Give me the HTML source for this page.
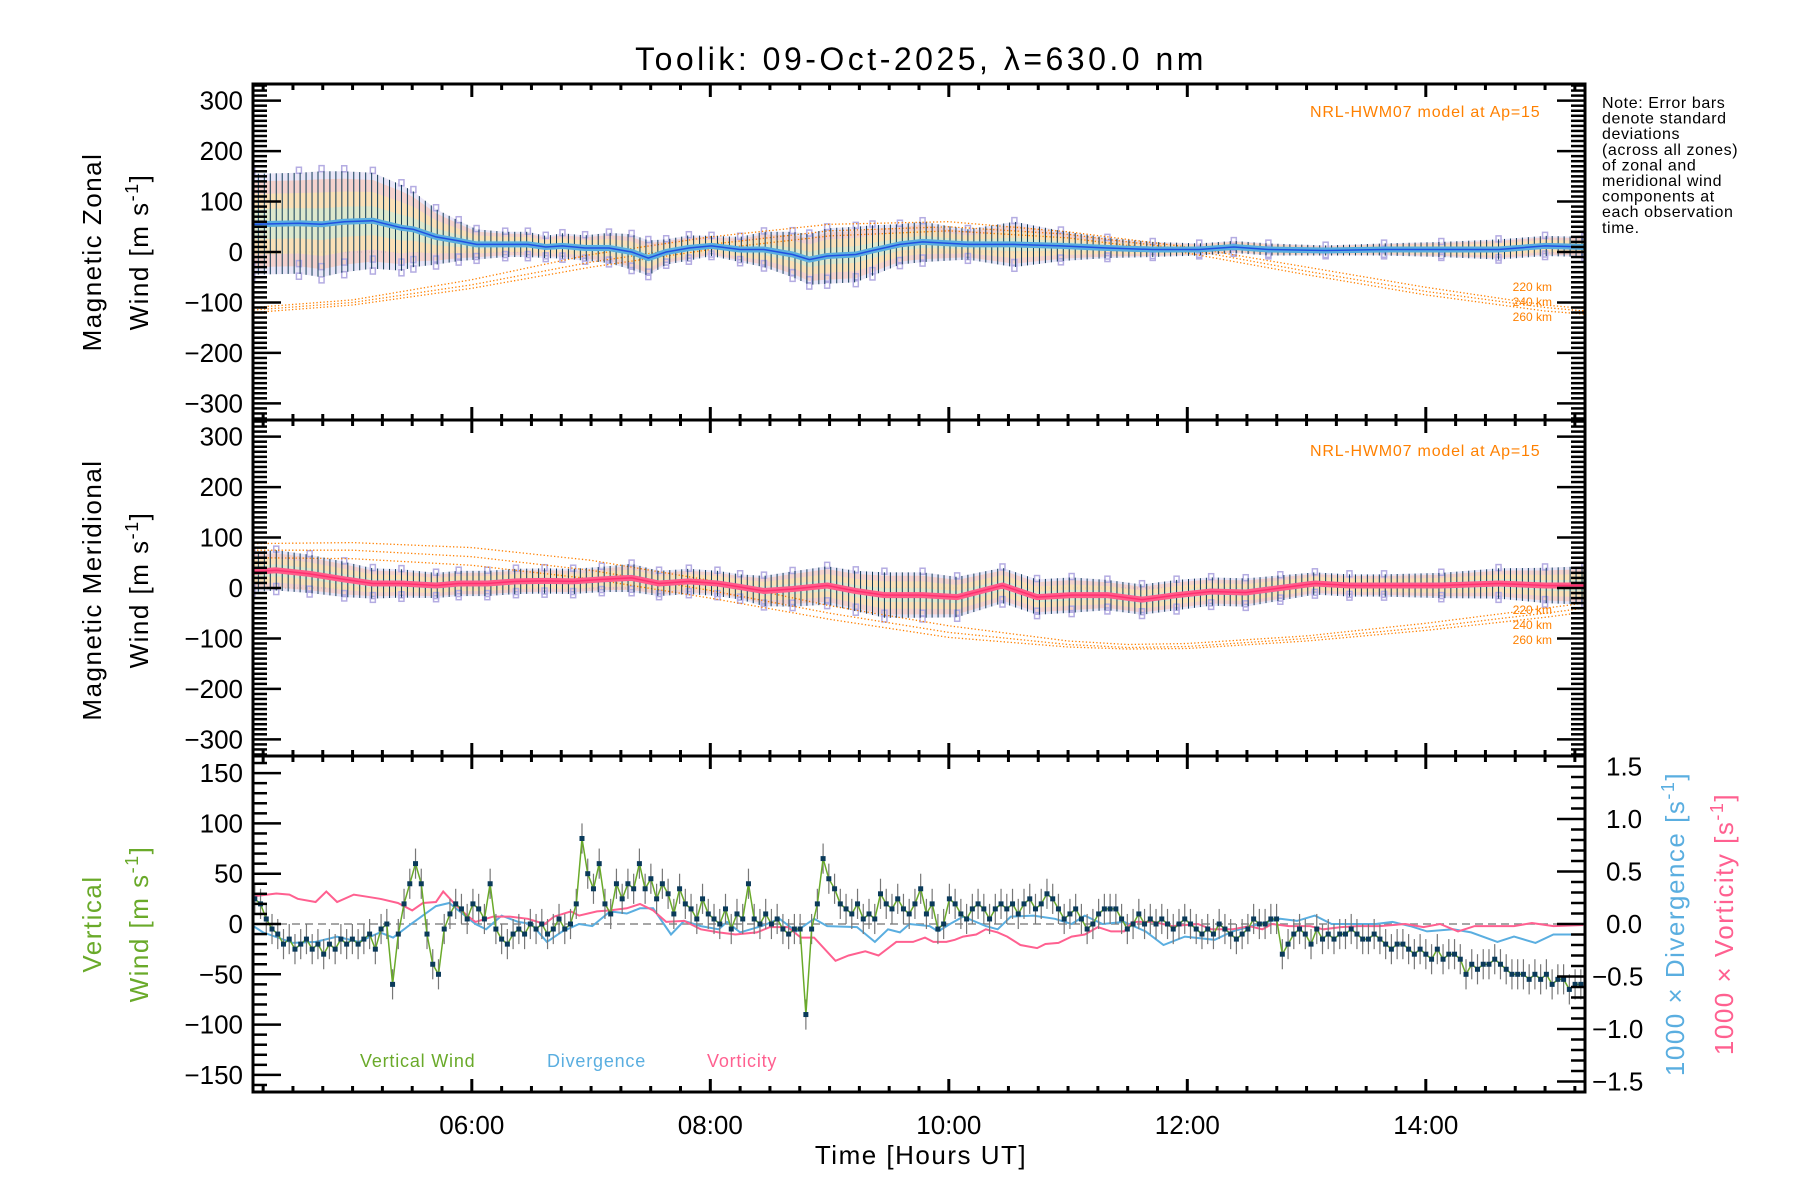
<!DOCTYPE html>
<html><head><meta charset="utf-8"><style>
html,body{margin:0;padding:0;background:#fff;}
svg{display:block;font-family:"Liberation Sans",sans-serif;}
</style></head><body>
<svg id="chart" xmlns="http://www.w3.org/2000/svg" width="1800" height="1200" viewBox="0 0 1800 1200">
<rect x="0" y="0" width="1800" height="1200" fill="#fff"/>
<text x="921" y="70" font-size="32" letter-spacing="3.5" text-anchor="middle">Toolik: 09-Oct-2025, λ=630.0 nm</text>
<g id="layer"></g>
<text x="1310" y="117" font-size="16" letter-spacing="0.8" fill="#ff8000">NRL-HWM07 model at Ap=15</text>
<text x="1310" y="456" font-size="16" letter-spacing="0.8" fill="#ff8000">NRL-HWM07 model at Ap=15</text>
<g font-size="12" fill="#ff8000" text-anchor="end">
<text x="1552" y="291">220 km</text>
<text x="1552" y="306">240 km</text>
<text x="1552" y="321">260 km</text>
<text x="1552" y="614">220 km</text>
<text x="1552" y="629">240 km</text>
<text x="1552" y="644">260 km</text>
</g>
<g font-size="16" letter-spacing="0.6">
<text x="1602" y="108">Note: Error bars</text>
<text x="1602" y="123.6">denote standard</text>
<text x="1602" y="139.2">deviations</text>
<text x="1602" y="154.8">(across all zones)</text>
<text x="1602" y="170.4">of zonal and</text>
<text x="1602" y="186">meridional wind</text>
<text x="1602" y="201.6">components at</text>
<text x="1602" y="217.2">each observation</text>
<text x="1602" y="232.8">time.</text>
</g>
<text transform="translate(101,252) rotate(-90)" font-size="26" letter-spacing="1.5" text-anchor="middle">Magnetic Zonal</text>
<text transform="translate(148,252) rotate(-90)" font-size="26" letter-spacing="1.5" text-anchor="middle">Wind [m s<tspan dy="-10" font-size="18">-1</tspan><tspan dy="10">]</tspan></text>
<text transform="translate(101,590) rotate(-90)" font-size="26" letter-spacing="1.5" text-anchor="middle">Magnetic Meridional</text>
<text transform="translate(148,590) rotate(-90)" font-size="26" letter-spacing="1.5" text-anchor="middle">Wind [m s<tspan dy="-10" font-size="18">-1</tspan><tspan dy="10">]</tspan></text>
<text transform="translate(101,924) rotate(-90)" font-size="26" letter-spacing="1.5" fill="#6aaa2a" text-anchor="middle">Vertical</text>
<text transform="translate(148,924) rotate(-90)" font-size="26" letter-spacing="1.5" fill="#6aaa2a" text-anchor="middle">Wind [m s<tspan dy="-10" font-size="18">-1</tspan><tspan dy="10">]</tspan></text>
<text transform="translate(1684,924) rotate(-90)" font-size="26" letter-spacing="1.5" fill="#5aaee0" text-anchor="middle">1000 × Divergence [s<tspan dy="-10" font-size="18">-1</tspan><tspan dy="10">]</tspan></text>
<text transform="translate(1733,924) rotate(-90)" font-size="26" letter-spacing="1.5" fill="#ff6090" text-anchor="middle">1000 × Vorticity [s<tspan dy="-10" font-size="18">-1</tspan><tspan dy="10">]</tspan></text>
<text x="921" y="1164" font-size="26" letter-spacing="1.5" text-anchor="middle">Time [Hours UT]</text>
<g font-size="18" letter-spacing="0.8">
<text x="360" y="1067" fill="#6aaa2a">Vertical Wind</text>
<text x="547" y="1067" fill="#5aaee0">Divergence</text>
<text x="707" y="1067" fill="#ff6090">Vorticity</text>
</g>
</svg>
<script>
// ---- Data ----
const zonalTimes = [4.16,4.55,4.74,4.93,5.17,5.41,5.51,5.70,5.89,6.04,6.28,6.47,6.62,6.76,6.95,7.15,7.34,7.48,7.63,7.82,8.01,8.25,8.45,8.69,8.83,8.98,9.22,9.36,9.59,9.78,10.16,10.55,10.94,11.33,11.71,12.10,12.39,12.68,13.16,13.65,14.13,14.61,15.0,15.33];
const zonalMean = [55,57,55,60,62,48,45,30,22,15,15,15,10,12,8,8,0,-12,0,8,12,5,5,-5,-15,-8,-5,3,15,20,15,15,12,8,5,5,10,5,3,5,5,5,12,10];
const zonalErr = [100,100,105,100,95,85,75,55,40,30,25,25,22,25,25,30,35,35,25,25,20,25,35,45,50,55,55,50,40,40,30,45,30,20,15,12,12,12,10,12,15,20,20,20];
const merTimes = [4.16,4.36,4.64,4.93,5.17,5.41,5.70,5.89,6.13,6.37,6.61,6.85,7.09,7.34,7.57,7.82,8.06,8.25,8.45,8.69,8.98,9.22,9.46,9.78,10.07,10.45,10.74,11.03,11.33,11.62,11.91,12.2,12.49,12.78,13.07,13.36,13.65,14.13,14.61,15.0,15.33];
const merMean = [32,35,28,17,9,9,5,9,9,13,14,13,17,20,9,13,9,2,-6,-2,5,-6,-14,-14,-18,5,-18,-14,-14,-23,-14,-7,-9,0,9,5,5,5,9,5,5];
const merErr = [40,40,38,35,30,28,25,25,25,25,25,25,25,28,25,25,25,25,30,35,38,40,45,45,40,35,35,35,30,30,30,28,28,25,22,22,22,25,30,35,38];
const modelTimesZ = [4.17,5,6,7,8,9,10,11,12,13,14,15,15.33];
const modelZ220 = [-110,-95,-55,-5,30,55,60,40,10,-30,-70,-105,-112];
const modelZ240 = [-115,-100,-65,-20,15,42,50,35,5,-38,-78,-110,-117];
const modelZ260 = [-120,-105,-72,-30,5,32,42,28,-2,-45,-85,-117,-123];
const modelTimesM = [4.17,5,6,7,8,9,10,11,11.5,12,13,14,15,15.33];
const modelM220 = [88,90,80,55,15,-35,-75,-105,-112,-110,-95,-70,-40,-30];
const modelM240 = [75,75,62,35,-5,-50,-88,-112,-118,-116,-100,-78,-50,-40];
const modelM260 = [60,58,45,18,-20,-62,-98,-117,-121,-120,-105,-84,-58,-48];
const vertStart = 4.18, vertEnd = 15.30;
const vertWind = [25,20,5,-5,-10,-20,-15,-25,-20,-15,-25,-20,-30,-20,-25,-15,-20,-15,-20,-15,-10,-25,-5,0,-60,-10,20,40,60,40,-10,-40,-50,-5,10,20,15,5,20,15,5,40,-5,-15,-20,-10,-5,-10,0,-5,0,-10,-5,5,-5,0,20,85,50,35,60,20,10,40,25,40,35,60,35,45,25,40,30,10,35,20,15,5,25,10,5,0,15,-5,10,5,40,5,0,10,0,5,-5,-10,-5,-5,-90,-5,20,65,45,35,20,15,10,20,5,10,5,30,20,15,25,15,10,20,35,10,20,-5,0,25,20,10,5,15,20,15,5,15,20,15,20,10,20,25,15,20,30,25,15,5,10,15,5,-5,0,10,15,15,15,5,-5,0,10,0,5,0,5,0,-5,0,5,0,-5,-10,-5,-10,0,-5,-10,-15,-10,-5,5,0,0,5,5,-30,-20,-10,-5,-10,-20,-5,-15,-10,-15,-10,-10,-5,-10,-15,-15,-10,-15,-20,-25,-20,-20,-25,-30,-25,-30,-35,-25,-35,-30,-30,-35,-50,-40,-45,-40,-40,-35,-40,-45,-50,-50,-50,-55,-50,-55,-50,-60,-55,-55,-65,-60,-60];
const vertErr = 15;
const divTimes = [4.14,4.25,4.50,4.69,4.87,5.05,5.23,5.34,5.49,5.70,5.81,5.92,6.03,6.12,6.25,6.39,6.50,6.63,6.76,6.90,7.01,7.16,7.30,7.41,7.52,7.67,7.78,7.92,8.07,8.14,8.25,8.43,8.58,8.72,8.87,8.98,9.23,9.38,9.49,9.59,9.67,9.84,9.91,10.01,10.12,10.31,10.41,10.52,10.71,10.89,11.03,11.14,11.29,11.47,11.65,11.80,11.98,12.23,12.38,12.60,12.78,12.92,13.07,13.21,13.58,13.72,13.87,14.01,14.23,14.38,14.60,14.74,14.92,15.07,15.32];
const divVals = [0,-0.08,-0.18,-0.17,-0.12,-0.17,-0.08,-0.13,0,0.17,0.2,0.1,0,-0.05,0.08,0.02,0,-0.17,-0.07,0,-0.02,0.12,0.1,0.15,0.15,-0.1,0.03,-0.02,-0.05,0.02,-0.08,-0.02,0.05,-0.07,0.05,-0.02,-0.03,-0.17,-0.05,-0.08,0,-0.02,-0.07,0,0.07,-0.02,-0.05,0.07,0.08,0.05,0,0.08,0,0.02,-0.07,-0.2,-0.12,-0.15,-0.07,0,0.05,0.03,0.08,0,0,0.02,-0.02,-0.07,-0.05,-0.08,-0.17,-0.12,-0.18,-0.1,-0.1];
const vortTimes = [4.14,4.36,4.47,4.54,4.69,4.78,4.87,5.01,5.12,5.23,5.38,5.50,5.59,5.70,5.76,5.85,5.96,6.03,6.18,6.32,6.47,6.61,6.69,6.83,6.90,7.05,7.16,7.30,7.41,7.52,7.63,7.78,7.92,8.07,8.21,8.39,8.50,8.65,8.76,8.87,9.05,9.16,9.30,9.41,9.56,9.70,9.80,9.87,9.98,10.05,10.12,10.23,10.31,10.41,10.49,10.60,10.74,10.81,10.92,11.03,11.14,11.25,11.36,11.47,11.54,11.72,11.87,12.09,12.20,12.38,12.52,12.63,12.71,12.85,13.03,13.14,13.29,13.43,13.61,13.83,13.98,14.12,14.27,14.41,14.63,14.74,14.89,15.07,15.32];
const vortVals = [0.26,0.29,0.28,0.24,0.21,0.31,0.21,0.28,0.26,0.24,0.2,0.13,0.2,0.21,0.31,0.2,0.08,0.02,0.07,0.07,0.05,0,0.07,0.12,0.08,0.12,0.13,0.15,0.19,0.13,0.02,0.03,-0.05,-0.08,-0.1,-0.08,-0.03,-0.03,-0.13,-0.13,-0.35,-0.3,-0.26,-0.3,-0.17,-0.17,-0.13,-0.17,-0.17,-0.15,-0.12,-0.1,-0.05,-0.08,-0.12,-0.2,-0.23,-0.19,-0.18,-0.12,-0.1,-0.03,-0.07,-0.07,0.02,0.02,-0.02,0,-0.05,-0.05,-0.02,-0.05,0,-0.02,-0.02,-0.05,-0.03,-0.02,-0.02,0,-0.03,0,-0.07,-0.02,-0.02,-0.02,0.01,-0.02,-0.01];
const xTickLabels = ["06:00","08:00","10:00","12:00","14:00"];
const xTickHours = [6,8,10,12,14];
const windTicks = [-300,-200,-100,0,100,200,300];
const vertTicks = [-150,-100,-50,0,50,100,150];
const rightTicks = [-1.5,-1.0,-0.5,0.0,0.5,1.0,1.5];

// ---- Axes ----
const NS = "http://www.w3.org/2000/svg";
const X0 = 253, X1 = 1585, H0 = 4.165, H1 = 15.335;
const panels = [
  {top:84, bot:420, min:-333, max:333},
  {top:420, bot:756, min:-333, max:333},
  {top:756, bot:1092, min:-167, max:167}
];
const rMin = -1.6, rMax = 1.6;
function sx(h){ return X0 + (h - H0) / (H1 - H0) * (X1 - X0); }
function sy(p, v){ const P = panels[p]; return P.bot - (v - P.min) / (P.max - P.min) * (P.bot - P.top); }
function syR(v){ const P = panels[2]; return P.bot - (v - rMin) / (rMax - rMin) * (P.bot - P.top); }
const layer = document.getElementById('layer');
function mk(tag, attrs, parent){ const e = document.createElementNS(NS, tag); for (const k in attrs) e.setAttribute(k, attrs[k]); (parent || layer).appendChild(e); return e; }
function interp(ts, vs, t){ if (t <= ts[0]) return vs[0]; for (let i = 1; i < ts.length; i++){ if (t <= ts[i]){ const f = (t - ts[i-1]) / (ts[i] - ts[i-1]); return vs[i-1] + f * (vs[i] - vs[i-1]); } } return vs[vs.length-1]; }
function pathFrom(ts, vs, fy){ return ts.map((t,i)=> (i? 'L':'M') + sx(t).toFixed(1) + ',' + fy(vs[i]).toFixed(1)).join(''); }

const defs = mk('defs', {});
panels.forEach((P, i) => {
  const cp = mk('clipPath', {id:'clip' + i}, defs);
  mk('rect', {x:X0, y:P.top, width:X1 - X0, height:P.bot - P.top}, cp);
});

function horizPanel(pi, times, mean, err, lineColor, coreColor, name, models, mtimes){
  const g = mk('g', {'clip-path':'url(#clip' + pi + ')'});
  
  
  const z = mk('line', {x1:X0, x2:X1, y1:sy(pi,0), y2:sy(pi,0), stroke:'#888', 'stroke-width':1, 'stroke-dasharray':'1,3'}, g);
  
  
  const bands = [[1.0,'#c8c0ec',0.4],[0.85,'#fbc4b0',0.6],[0.6,'#fde9a8',0.6],[0.3,'#bff0e4',0.5]];
  bands.forEach((b, bi) => {
    const up = times.map((t,i)=> sx(t).toFixed(1) + ',' + sy(pi, mean[i] + err[i]*b[0]).toFixed(1));
    const dn = times.map((t,i)=> sx(t).toFixed(1) + ',' + sy(pi, mean[i] - err[i]*b[0]).toFixed(1)).reverse();
    const poly = mk('polygon', {points: up.concat(dn).join(' '), fill:b[1], opacity:b[2]}, g);
    
    
  });
  // lavender zone markers
  const sg = mk('g', {fill:'none', stroke:'#b4ace2', 'stroke-width':1.5}, g);
  
  
  times.forEach((t,i)=>{
    [1.05, -1.05, -0.8].forEach(f => { mk('rect', {x:sx(t)-2.5, y:sy(pi, mean[i] + err[i]*f)-3, width:5, height:6}, sg); });
  });
  models.forEach((m, mi) => {
    const p = mk('path', {d: pathFrom(mtimes, m, v=>sy(pi,v)), fill:'none', stroke:'#ff8000', 'stroke-width':1.3, 'stroke-dasharray':'1.3,2.2'}, g);
    
    
  });
  const eg = mk('g', {stroke:'#0e3a56', 'stroke-width':1}, g);
  
  
  for (let t = times[0]; t <= times[times.length-1]; t += 0.05){
    const m = interp(times, mean, t), e = interp(times, err, t);
    mk('line', {x1:sx(t), x2:sx(t), y1:sy(pi, m - e), y2:sy(pi, m + e)}, eg);
  }
  const ml = mk('path', {d: pathFrom(times, mean, v=>sy(pi,v)), fill:'none', stroke:lineColor, 'stroke-width':6, 'stroke-linejoin':'round'}, g);
  
  
  const mc = mk('path', {d: pathFrom(times, mean, v=>sy(pi,v)), fill:'none', stroke:coreColor, 'stroke-width':1.5}, g);
  
  
}
horizPanel(0, zonalTimes, zonalMean, zonalErr, '#5aaee0', '#2050e0', 'zonal', [modelZ220, modelZ240, modelZ260], modelTimesZ);
horizPanel(1, merTimes, merMean, merErr, '#ff5c8a', '#ff3070', 'meridional', [modelM220, modelM240, modelM260], modelTimesM);

const bg = mk('g', {'clip-path':'url(#clip2)'});


const zl = mk('line', {x1:X0, x2:X1, y1:sy(2,0), y2:sy(2,0), stroke:'#888', 'stroke-width':1.5, 'stroke-dasharray':'8,5'}, bg);


const divPath = mk('path', {d: pathFrom(divTimes, divVals, syR), fill:'none', stroke:'#5aaee0', 'stroke-width':2}, bg);


const vortPath = mk('path', {d: pathFrom(vortTimes, vortVals, syR), fill:'none', stroke:'#ff6090', 'stroke-width':2}, bg);


const vStep = (vertEnd - vertStart) / (vertWind.length - 1);
const vTimes = vertWind.map((v,i)=> vertStart + i * vStep);
const veg = mk('g', {stroke:'#777', 'stroke-width':1.2}, bg);


vertWind.forEach((v,i)=>{ mk('line', {x1:sx(vTimes[i]), x2:sx(vTimes[i]), y1:sy(2, v - vertErr), y2:sy(2, v + vertErr)}, veg); });
const vl = mk('path', {d: pathFrom(vTimes, vertWind, v=>sy(2,v)), fill:'none', stroke:'#6aaa2a', 'stroke-width':1.5}, bg);


const vpg = mk('g', {fill:'#0a3a5a'}, bg);


vertWind.forEach((v,i)=>{ mk('rect', {x:sx(vTimes[i]) - 2.5, y:sy(2,v) - 2.5, width:5, height:5}, vpg); });

const ax = mk('g', {stroke:'#000', fill:'none'});


panels.forEach((P, pi) => {
  const fr = mk('rect', {x:X0, y:P.top, width:X1 - X0, height:P.bot - P.top, 'stroke-width':3}, ax);
  
  
  for (let q = Math.ceil(H0 * 4); q <= Math.floor(H1 * 4); q++){
    const h = q / 4, x = sx(h), major = (q % 8 === 0);
    const L = major ? 13 : 6;
    mk('line', {x1:x, x2:x, y1:P.bot, y2:P.bot - L, 'stroke-width':3}, ax);
    mk('line', {x1:x, x2:x, y1:P.top, y2:P.top + L, 'stroke-width':3}, ax);
  }
  if (pi < 2){
    for (let v = -330; v <= 330; v += 10){
      const y = sy(pi, v), major = (v % 100 === 0);
      const L = major ? 28 : 14;
      mk('line', {x1:X0, x2:X0 + L, y1:y, y2:y, 'stroke-width':2.5}, ax);
      mk('line', {x1:X1, x2:X1 - L, y1:y, y2:y, 'stroke-width':2.5}, ax);
    }
  } else {
    for (let v = -160; v <= 160; v += 10){
      const y = sy(2, v), major = (v % 50 === 0);
      mk('line', {x1:X0, x2:X0 + (major ? 28 : 14), y1:y, y2:y, 'stroke-width':2.5}, ax);
    }
    for (let k = -16; k <= 16; k++){
      const y = syR(k / 10), major = (k % 5 === 0);
      mk('line', {x1:X1, x2:X1 - (major ? 28 : 14), y1:y, y2:y, 'stroke-width':2.5}, ax);
    }
  }
});
const lab = mk('g', {'font-size':26, fill:'#000'});
[0,1].forEach(pi => {
  windTicks.forEach(v => {
    const t = mk('text', {x:243, y:sy(pi, v) + 9, 'text-anchor':'end'}, lab);
    
    
    t.textContent = v < 0 ? '\u2212' + Math.abs(v) : String(v);
  });
});
vertTicks.forEach(v => {
  const t = mk('text', {x:243, y:sy(2, v) + 9, 'text-anchor':'end'}, lab);
  
  
  t.textContent = v < 0 ? '\u2212' + Math.abs(v) : String(v);
});
rightTicks.forEach(v => {
  const t = mk('text', {x:v < 0 ? 1592 : 1606, y:syR(v) + 9}, lab);
  
  
  t.textContent = (v < 0 ? '\u2212' : '') + Math.abs(v).toFixed(1);
});
xTickLabels.forEach((s, i) => {
  const t = mk('text', {x:sx(xTickHours[i]), y:1134, 'text-anchor':'middle'}, lab);
  
  
  t.textContent = s;
});
</script>
</body></html>
